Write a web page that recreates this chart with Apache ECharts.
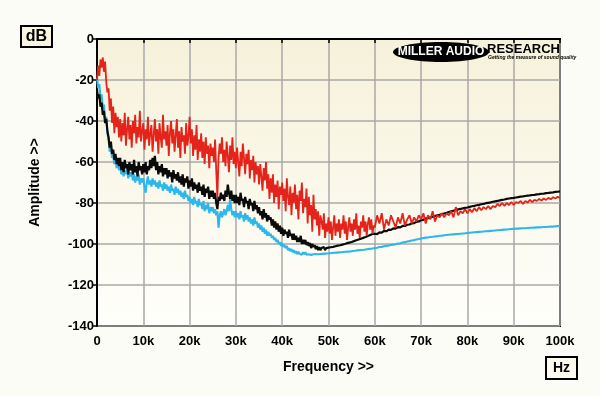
<!DOCTYPE html>
<html>
<head>
<meta charset="utf-8">
<script src="https://cdn.jsdelivr.net/npm/echarts@6/dist/echarts.min.js"></script>
<style>
html,body{margin:0;padding:0;background:#fcfcf7;}
#chart{width:600px;height:396px;}
</style>
</head>
<body>
<div id="chart"></div>
<script>
// Readings below 60 kHz are every 0.25 kHz starting at 0 Hz;
// readings from 60 kHz to 100 kHz are every 0.5 kHz.
const LOW_START = 0, LOW_STEP = 250;
const HIGH_START = 60000, HIGH_STEP = 500;

// Red trace (dB)
const redLow = [
  -20, -13, -18, -10, -14, -9, -16, -11, -21, -26,
  -24, -35, -29, -41, -33, -46, -36, -43, -38, -48,
  -39, -50, -41, -47, -36, -52, -44, -38, -49, -42,
  -53, -40, -46, -37, -51, -43, -48, -35, -50, -45,
  -41, -54, -44, -49, -38, -52, -46, -42, -55, -47,
  -39, -50, -44, -56, -41, -48, -53, -37, -49, -45,
  -52, -42, -57, -46, -40, -51, -44, -55, -47, -39,
  -53, -45, -58, -43, -50, -47, -56, -41, -52, -48,
  -38, -51, -44, -57, -47, -54, -42, -59, -49, -55,
  -46, -58, -50, -61, -48, -56, -52, -63, -51, -57,
  -53, -60, -49, -64, -77, -58, -51, -56, -48, -60,
  -54, -62, -50, -57, -65, -52, -59, -48, -61, -55,
  -63, -53, -60, -67, -55, -62, -51, -58, -66, -56,
  -61, -54, -68, -59, -64, -57, -70, -60, -66, -62,
  -71, -61, -67, -74, -63, -69, -60, -73, -66, -78,
  -68, -75, -66, -80, -71, -77, -69, -83, -72, -76,
  -70, -79, -73, -84, -68, -77, -81, -72, -86, -75,
  -80, -71, -83, -76, -88, -74, -79, -70, -85, -78,
  -82, -73, -90, -77, -86, -81, -94, -76, -88, -83,
  -91, -84, -96, -86, -89, -93, -85, -97, -90, -94,
  -87, -95, -89, -98, -92, -86, -96, -90, -94, -88,
  -97, -90, -93, -86, -95, -89, -98, -92, -87, -94,
  -90, -96, -88, -93, -85, -95, -91, -97, -89, -92,
  -86, -94, -89, -96, -90, -87, -93, -88, -95, -91
];
const redHigh = [
  -92, -86, -90, -85, -93, -88, -91, -86, -89, -92,
  -87, -90, -85, -91, -88, -86, -90, -87, -89, -86,
  -88, -85, -90, -86, -88, -84, -89, -86, -87, -85,
  -87, -85, -86, -84, -87, -82, -86, -84, -85, -83,
  -85, -83, -84.5, -82.5, -84, -82, -83.5, -82, -83, -81.5,
  -83, -81.5, -82, -80.5, -81.5, -80, -81.5, -80, -81, -79.5,
  -81, -79.5, -80, -79, -80.5, -79, -79.8, -78.5, -79.5, -78.5,
  -79, -78, -78.8, -77.8, -78.5, -77.5, -78.2, -77.2, -77.8, -77, -77.5
];

// Black trace (dB)
const blackLow = [
  -25, -29, -27, -33, -31, -37, -35, -41, -39, -45,
  -48, -53, -50, -56, -54, -59, -56, -61, -58, -62,
  -58, -64, -60, -65, -59, -63, -61, -66, -60, -64,
  -61, -66, -59, -65, -62, -67, -60, -64, -62, -66,
  -61, -65, -60, -66, -62, -64, -59, -63, -58, -62,
  -57, -64, -60, -66, -62, -65, -61, -67, -63, -66,
  -63, -68, -64, -67, -65, -70, -64, -68, -66, -69,
  -65, -70, -67, -71, -66, -72, -68, -70, -67, -73,
  -69, -72, -68, -74, -70, -73, -71, -75, -70, -74,
  -72, -76, -71, -77, -73, -75, -72, -78, -74, -77,
  -74, -78, -75, -80, -83, -77, -79, -75, -78, -76,
  -79, -74, -77, -71, -75, -78, -74, -79, -76, -80,
  -76, -80, -77, -81, -75, -79, -78, -82, -77, -80,
  -79, -83, -78, -81, -80, -84, -79, -83, -81, -85,
  -82, -86, -84, -88, -83, -87, -85, -89, -86, -88,
  -87, -91, -88, -92, -89, -93, -90, -94, -91, -95,
  -92, -96, -93, -95, -94, -97, -93, -96, -95, -98,
  -95, -98, -96, -99, -97, -99, -96, -100, -98, -100,
  -98, -100.5, -99, -101, -99.5, -102, -100, -101.5, -100.5, -102.5,
  -101, -103, -101.5, -103, -102, -102.8, -101.5, -103, -102, -102.6,
  -101.8, -102.6, -101.6, -102.3, -101.4, -102, -101.1, -101.7, -100.8, -101.4,
  -100.6, -101.1, -100.3, -100.8, -100, -100.4, -99.6, -100.1, -99.3, -99.8,
  -99, -99.4, -98.6, -99, -98.2, -98.5, -97.8, -98.1, -97.4, -97.7,
  -97, -97.3, -96.6, -96.8, -96.1, -96.3, -95.6, -95.8, -95.1, -95.3
];
const blackHigh = [
  -95, -95.2, -94.3, -94.5, -93.6, -93.8, -93, -93.1, -92.4, -92.5,
  -91.8, -91.9, -91.2, -91.2, -90.6, -90.5, -89.9, -89.8, -89.2, -89,
  -88.4, -88.2, -87.6, -87.4, -87, -86.7, -86.4, -86, -85.8, -85.4,
  -85.1, -84.8, -84.4, -84.1, -83.8, -83.5, -83.1, -82.9, -82.6, -82.4,
  -82.2, -81.9, -81.6, -81.4, -81.1, -80.9, -80.6, -80.4, -80.1, -79.9,
  -79.7, -79.4, -79.2, -79, -78.7, -78.5, -78.3, -78, -77.8, -77.6,
  -77.5, -77.3, -77.1, -76.9, -76.8, -76.6, -76.4, -76.3, -76.1, -76,
  -75.8, -75.7, -75.5, -75.4, -75.2, -75.1, -74.9, -74.8, -74.6, -74.5, -74.3
];

// Blue trace (dB)
const blueLow = [
  -19, -24, -22, -29, -27, -34, -32, -40, -38, -46,
  -49, -55, -53, -58, -57, -61, -59, -63, -60, -64,
  -62, -66, -63, -67, -64, -66, -63, -68, -65, -67,
  -65, -69, -66, -70, -67, -69, -66, -71, -68, -70,
  -68, -72, -75, -70, -67, -71, -69, -72, -68, -71,
  -69, -72, -70, -73, -69, -72, -71, -74, -70, -73,
  -71, -74, -72, -75, -71, -74, -73, -76, -72, -75,
  -73, -76, -74, -77, -75, -78, -74, -77, -76, -79,
  -77, -80, -78, -81, -77, -80, -79, -82, -78, -81,
  -80, -83, -79, -84, -81, -83, -80, -85, -82, -84,
  -82, -85, -83, -86, -84, -92, -86, -84, -87, -85,
  -83, -86, -84, -81, -84, -78, -83, -86, -84, -87,
  -84, -87, -85, -88, -84, -87, -86, -89, -85, -88,
  -86, -89, -87, -90, -88, -91, -87, -90, -89, -92,
  -90, -93, -91, -94, -92, -95, -93, -96, -94, -96,
  -95, -97, -96, -98, -97, -99, -98, -100, -99, -101,
  -99.5, -101.5, -100.5, -102, -101, -103, -102, -103.5, -102.5, -104,
  -103, -104.5, -103.5, -105, -103.8, -104.8, -104, -105.2, -104, -105,
  -104, -105.2, -104.3, -105, -104.1, -105.3, -104.4, -105, -104.2, -104.9,
  -104.1, -105, -104.3, -104.9, -104, -104.8, -104.2, -104.7, -103.9, -104.6,
  -104, -104.5, -103.9, -104.4, -103.8, -104.3, -103.8, -104.2, -103.7, -104.1,
  -103.6, -104, -103.5, -103.9, -103.4, -103.8, -103.3, -103.7, -103.2, -103.6,
  -103.1, -103.4, -103, -103.3, -102.9, -103.1, -102.7, -103, -102.6, -102.9,
  -102.5, -102.8, -102.4, -102.6, -102.2, -102.4, -102, -102.3, -101.9, -102.1
];
const blueHigh = [
  -101.9, -101.8, -101.5, -101.4, -101.1, -100.9, -100.7, -100.5, -100.3, -100.1,
  -99.8, -99.6, -99.3, -99.1, -98.8, -98.6, -98.3, -98.1, -97.8, -97.6,
  -97.3, -97.1, -96.9, -96.8, -96.6, -96.5, -96.3, -96.2, -96, -95.9,
  -95.7, -95.6, -95.5, -95.4, -95.3, -95.2, -95.1, -95, -94.9, -94.8,
  -94.6, -94.5, -94.4, -94.3, -94.2, -94.1, -94, -93.9, -93.8, -93.7,
  -93.6, -93.5, -93.4, -93.3, -93.2, -93.1, -93, -92.9, -92.8, -92.7,
  -92.6, -92.5, -92.5, -92.4, -92.3, -92.3, -92.2, -92.1, -92.1, -92,
  -91.9, -91.9, -91.8, -91.7, -91.7, -91.6, -91.5, -91.5, -91.4, -91.3, -91.2
];

// Axis settings
const xMin = 0, xMax = 100000, xStep = 10000;
const yMin = -140, yMax = 0, yStep = 20;
const xTitle = 'Frequency >>';
const yTitle = 'Amplitude >>';
const yUnit = 'dB';
const xUnit = 'Hz';

function toPairs(low, high) {
  const a = low.map((v, i) => [LOW_START + i * LOW_STEP, v]);
  const b = high.map((v, i) => [HIGH_START + i * HIGH_STEP, v]);
  return a.concat(b);
}

const FONT = '"Liberation Sans", Arial, sans-serif';
const chart = echarts.init(document.getElementById('chart'), null, {renderer: 'canvas'});

chart.setOption({
  animation: false,
  backgroundColor: '#fcfcf7',
  grid: {
    left: 97, right: 40, top: 39, bottom: 70,
    show: true,
    borderColor: '#000', borderWidth: 2,
    backgroundColor: {
      type: 'linear', x: 0, y: 0, x2: 0, y2: 1,
      colorStops: [
        {offset: 0, color: '#f6f1d9'},
        {offset: 1, color: '#fffffb'}
      ]
    }
  },
  xAxis: {
    type: 'value', min: xMin, max: xMax, interval: xStep,
    name: xTitle, nameLocation: 'middle', nameGap: 34,
    nameTextStyle: {fontFamily: FONT, fontWeight: 'bold', fontSize: 14, color: '#000'},
    axisLine: {show: true, lineStyle: {color: '#000', width: 2}},
    axisTick: {show: true, length: 4, lineStyle: {color: '#000', width: 1.5}},
    axisLabel: {
      margin: 9, color: '#000', fontFamily: FONT, fontWeight: 'bold', fontSize: 13,
      formatter: v => v === 0 ? '0' : (v / 1000) + 'k'
    },
    splitLine: {show: true, lineStyle: {color: '#a8a8a8', width: 1.5}}
  },
  yAxis: {
    type: 'value', min: yMin, max: yMax, interval: yStep,
    name: yTitle, nameLocation: 'middle', nameGap: 55, nameRotate: 90,
    nameTextStyle: {fontFamily: FONT, fontWeight: 'bold', fontSize: 14, color: '#000'},
    axisLine: {show: true, lineStyle: {color: '#000', width: 2}},
    axisTick: {show: true, length: 5, lineStyle: {color: '#000', width: 1.5}},
    axisLabel: {margin: 3, color: '#000', fontFamily: FONT, fontWeight: 'bold', fontSize: 13},
    splitLine: {show: true, lineStyle: {color: '#a8a8a8', width: 1.5}}
  },
  series: [
    {type: 'line', data: toPairs(blueLow, blueHigh), showSymbol: false, z: 2,
     lineStyle: {color: '#2db7ea', width: 2.1}},
    {type: 'line', data: toPairs(blackLow, blackHigh), showSymbol: false, z: 3,
     lineStyle: {color: '#0a0a0a', width: 2.2}},
    {type: 'line', data: toPairs(redLow, redHigh), showSymbol: false, z: 4,
     lineStyle: {color: '#e4241a', width: 1.8}}
  ],
  graphic: [
    {type: 'rect', shape: {x: 21, y: 26, width: 31, height: 21},
     style: {fill: '#f9f5df', stroke: '#000', lineWidth: 2}},
    {type: 'text', x: 36.5, y: 37,
     style: {text: yUnit, font: 'bold 16px ' + FONT, fill: '#000', align: 'center', verticalAlign: 'middle'}},
    {type: 'rect', shape: {x: 546, y: 357, width: 31, height: 22},
     style: {fill: '#fdfbee', stroke: '#000', lineWidth: 2}},
    {type: 'text', x: 561.5, y: 368.5,
     style: {text: xUnit, font: 'bold 14px ' + FONT, fill: '#000', align: 'center', verticalAlign: 'middle'}},
    {type: 'ellipse', shape: {cx: 441, cy: 52, rx: 48, ry: 10}, style: {fill: '#000'}, z: 10},
    {type: 'text', x: 441, y: 52, z: 11,
     style: {text: 'MILLER AUDIO', font: 'bold 12px ' + FONT, fill: '#fff', align: 'center', verticalAlign: 'middle'}},
    {type: 'text', x: 487, y: 49, z: 11,
     style: {text: 'RESEARCH', font: 'bold 13px ' + FONT, fill: '#000', align: 'left', verticalAlign: 'middle'}},
    {type: 'text', x: 488, y: 58, z: 11,
     style: {text: 'Getting the measure of sound quality', font: 'italic bold 5px ' + FONT, fill: '#000', align: 'left', verticalAlign: 'middle'}}
  ]
});
</script>
</body>
</html>
